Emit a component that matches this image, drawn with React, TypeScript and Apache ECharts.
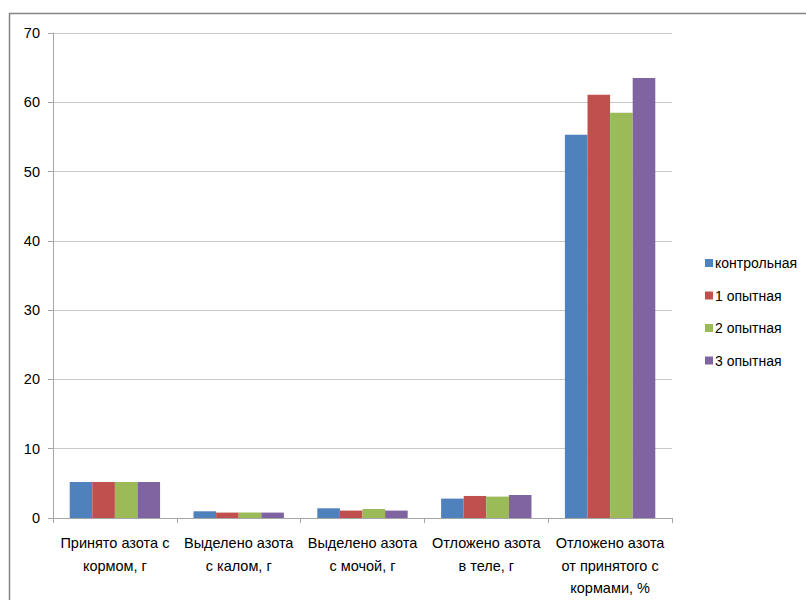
import React, { useEffect, useRef } from "react";
import * as echarts from "echarts";

// Nitrogen balance indicators per group
const categories = [
  "Принято азота с\nкормом, г",
  "Выделено азота\nс калом, г",
  "Выделено азота\nс мочой, г",
  "Отложено азота\nв теле, г",
  "Отложено азота\nот принятого с\nкормами, %",
];

const groupNames = ["контрольная", "1 опытная", "2 опытная", "3 опытная"];

const control = [5.2, 0.97, 1.4, 2.8, 55.3];
const exp1 = [5.2, 0.78, 1.07, 3.18, 61.1];
const exp2 = [5.2, 0.78, 1.3, 3.09, 58.5];
const exp3 = [5.2, 0.78, 1.07, 3.32, 63.5];

const seriesValues = [control, exp1, exp2, exp3];
const colors = ["#4f81bd", "#c0504d", "#9bbb59", "#8064a2"];

const FONT = "Liberation Sans";

export default function App() {
  const ref = useRef<HTMLDivElement>(null);

  useEffect(() => {
    if (!ref.current) return;
    const chart = echarts.init(ref.current, undefined, { renderer: "svg" });
    chart.setOption({
      animation: false,
      backgroundColor: "#ffffff",
      textStyle: { fontFamily: FONT },
      grid: { left: 53, right: 134, top: 33, bottom: 82 },
      graphic: [
        {
          type: "rect",
          shape: { x: 9.5, y: 13.5, width: 820, height: 620 },
          style: { fill: "none", stroke: "#868686", lineWidth: 1.5 },
          silent: true,
        },
      ],
      legend: {
        orient: "vertical",
        left: 700,
        top: 250,
        itemWidth: 8,
        itemHeight: 8,
        itemGap: 16.5,
        icon: "rect",
        textStyle: {
          fontFamily: FONT,
          fontSize: 14,
          lineHeight: 16,
          color: "#000",
          padding: [0, 0, 0, -3],
        },
        data: groupNames,
      },
      xAxis: {
        type: "category",
        data: categories,
        axisLine: { lineStyle: { color: "#a6a6a6", width: 1 } },
        axisTick: { show: true, length: 5, lineStyle: { color: "#a6a6a6" } },
        axisLabel: {
          interval: 0,
          color: "#000",
          fontFamily: FONT,
          fontSize: 14.5,
          lineHeight: 22.5,
          margin: 14,
        },
      },
      yAxis: {
        type: "value",
        min: 0,
        max: 70,
        interval: 10,
        axisLine: { show: true, lineStyle: { color: "#a6a6a6" } },
        axisTick: { show: true, length: 5, lineStyle: { color: "#a6a6a6" } },
        splitLine: { lineStyle: { color: "#c8c8c8", width: 1 } },
        axisLabel: { color: "#000", fontFamily: FONT, fontSize: 14.5, margin: 13 },
      },
      series: groupNames.map((name, i) => ({
        name,
        type: "bar",
        data: seriesValues[i],
        barGap: "0%",
        barCategoryGap: "27%",
        itemStyle: { color: colors[i] },
      })),
    });
    return () => chart.dispose();
  }, []);

  return (
    <div
      ref={ref}
      style={{ position: "fixed", left: 0, top: 0, width: 806, height: 600 }}
    />
  );
}
